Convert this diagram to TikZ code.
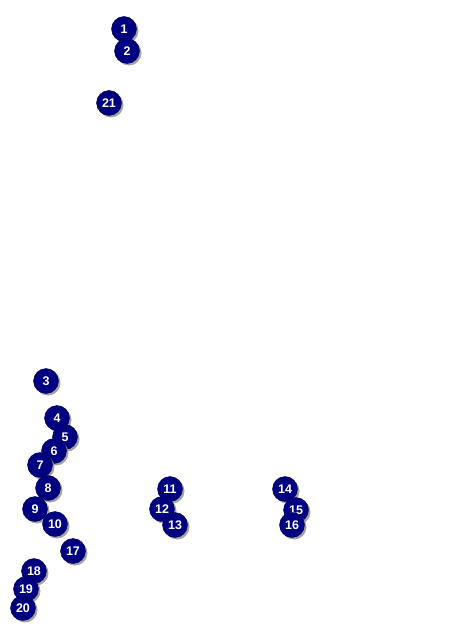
\documentclass[tikz,border=0pt]{standalone}
\usepackage{fontspec}
\setmainfont{Liberation Sans}
\usetikzlibrary{shadows}
\definecolor{navy}{RGB}{0,0,128}
\begin{document}
\begin{tikzpicture}[x=1pt,y=-1pt,
  marker/.style={circle,fill=navy,draw=navy!60!black,line width=0.4pt,minimum size=25pt,inner sep=0pt,
    text=white,font=\fontsize{12.5}{12.5}\selectfont\bfseries,
    drop shadow={shadow xshift=2pt,shadow yshift=-2pt,fill=black!45,opacity=0.8}}]
\useasboundingbox (0,0) rectangle (451,636);
\node[marker] (n1) at (124,29) {1};
\node[marker] (n2) at (127,51) {2};
\node[marker] (n21) at (109,103) {21};
\node[marker] (n3) at (46,381) {3};
\node[marker] (n4) at (57,418) {4};
\node[marker] (n5) at (65,437) {5};
\node[marker] (n6) at (54,451) {6};
\node[marker] (n7) at (40,465) {7};
\node[marker] (n8) at (48,488) {8};
\node[marker] (n9) at (35,509) {9};
\node[marker] (n10) at (55,524) {10};
\node[marker] (n11) at (170,489) {11};
\node[marker] (n12) at (162,509) {12};
\node[marker] (n13) at (175,525) {13};
\node[marker] (n14) at (285,489) {14};
\node[marker] (n15) at (296,510) {15};
\node[marker] (n16) at (292,525) {16};
\node[marker] (n17) at (73,551) {17};
\node[marker] (n18) at (34,571) {18};
\node[marker] (n19) at (26,589) {19};
\node[marker] (n20) at (23,608) {20};
\end{tikzpicture}
\end{document}
